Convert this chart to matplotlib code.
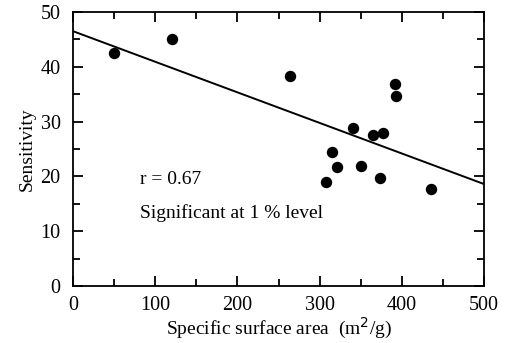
import matplotlib.pyplot as plt
from matplotlib.ticker import MultipleLocator

# data
surface_area = [50, 120, 264, 308, 315, 321, 340, 350, 365, 373, 377, 392, 393, 435]
sensitivity = [42.5, 45.0, 38.3, 19.0, 24.4, 21.7, 28.8, 21.9, 27.5, 19.7, 27.9, 36.9, 34.6, 17.7]

# regression line endpoints (x, y)
line_x = [0, 500]
line_y = [46.5, 18.6]

plt.rcParams['font.family'] = ['Liberation Serif', 'DejaVu Serif']

fig = plt.figure(figsize=(5.07, 3.43), dpi=100)
ax = fig.add_axes([0.144, 0.166, 0.811, 0.799])

ax.plot(line_x, line_y, color='black', linewidth=1.4)
ax.plot(surface_area, sensitivity, 'o', color='black', markersize=7.2, clip_on=False)

ax.set_xlim(0, 500)
ax.set_ylim(0, 50)
ax.xaxis.set_major_locator(MultipleLocator(100))
ax.xaxis.set_minor_locator(MultipleLocator(50))
ax.yaxis.set_major_locator(MultipleLocator(10))
ax.yaxis.set_minor_locator(MultipleLocator(5))
ax.tick_params(which='both', direction='in', top=True, right=True, width=1.3,
               labelsize=14.5)
ax.tick_params(axis='x', which='major', pad=7)
ax.tick_params(axis='y', which='major', pad=9)
ax.tick_params(which='major', length=7)
ax.tick_params(which='minor', length=5)
for s in ax.spines.values():
    s.set_linewidth(1.3)

ax.text(82, 19.5, 'r = 0.67', fontsize=14, va='center')
ax.text(82, 13.3, 'Significant at 1 % level', fontsize=14, va='center')

ax.set_xlabel('Specific surface area  (m$^2$/g)', fontsize=14, labelpad=1)
ax.set_ylabel('Sensitivity', fontsize=14, labelpad=3)

fig.savefig('out.png', dpi=100)
